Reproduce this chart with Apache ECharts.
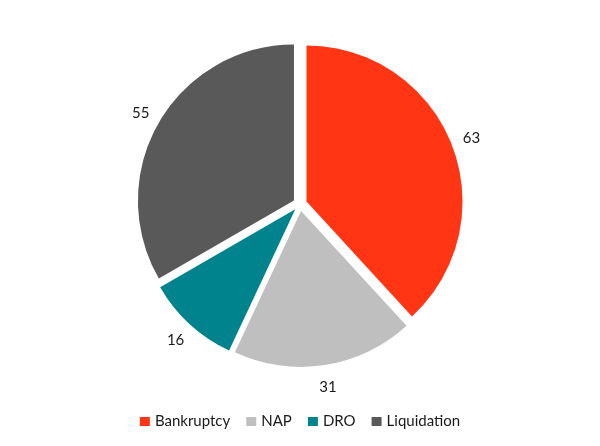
<!DOCTYPE html>
<html>
<head>
<meta charset="utf-8">
<script src="https://cdn.jsdelivr.net/npm/echarts@6/dist/echarts.min.js"></script>
<style>
html,body{margin:0;padding:0;background:#fff;}
#chart{width:600px;height:446px;}
</style>
</head>
<body>
<div id="chart"></div>
<script>
const categories = ['Bankruptcy', 'NAP', 'DRO', 'Liquidation'];
const values = [63, 31, 16, 55];
const colors = ['#FF3514', '#BFBFBF', '#00838D', '#595959'];

const pieData = categories.map((c, i) => ({
  name: c, value: values[i], selected: true, itemStyle: { color: colors[i] }
}));
const labelData = categories.map((c, i) => ({ name: c, value: values[i] }));

const chart = echarts.init(document.getElementById('chart'), null, { renderer: 'canvas' });
chart.setOption({
  animation: false,
  backgroundColor: '#ffffff',
  legend: {
    top: 409,
    left: 'center',
    itemWidth: 10,
    itemHeight: 9,
    itemGap: 16,
    icon: 'rect',
    data: categories,
    textStyle: { fontFamily: 'Lato', fontSize: 15, color: '#1a1a1a' }
  },
  series: [
    {
      type: 'pie',
      center: [300, 204],
      radius: [0, 156],
      startAngle: 90,
      clockwise: true,
      selectedMode: 'multiple',
      selectedOffset: 7,
      avoidLabelOverlap: false,
      label: { show: false },
      labelLine: { show: false },
      emphasis: { disabled: true },
      itemStyle: { borderWidth: 0 },
      data: pieData
    },
    {
      type: 'pie',
      center: [300, 205],
      radius: [170, 192],
      startAngle: 90,
      clockwise: true,
      silent: true,
      legendHoverLink: false,
      avoidLabelOverlap: false,
      itemStyle: { color: 'rgba(0,0,0,0)' },
      label: {
        show: true,
        position: 'inside',
        formatter: '{c}',
        fontFamily: 'Lato',
        fontSize: 15,
        color: '#1a1a1a'
      },
      labelLine: { show: false },
      emphasis: { disabled: true },
      data: labelData
    }
  ]
});
</script>
</body>
</html>
